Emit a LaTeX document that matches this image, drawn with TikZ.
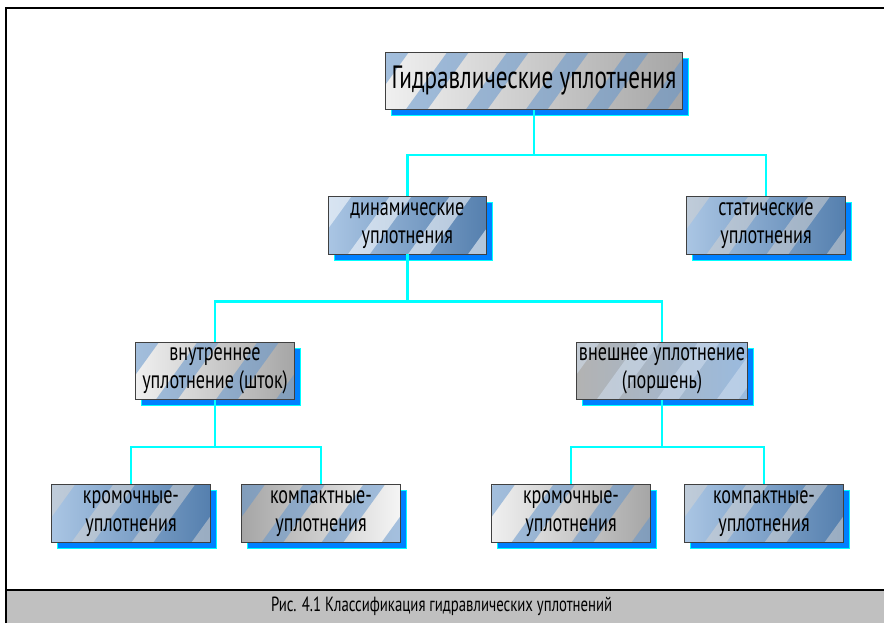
\documentclass[tikz,border=0pt]{standalone}
\usepackage{fontspec}
\setmainfont{PT Sans}[FakeStretch=0.72]
\usetikzlibrary{shadows}
\definecolor{shadowblue}{RGB}{0,128,255}
\definecolor{linkcyan}{RGB}{0,255,255}
\definecolor{glassblue}{RGB}{100,150,205}
\definecolor{capgray}{RGB}{192,192,192}

\begin{document}
\begin{tikzpicture}[
    sealbox/.style={draw=black!75, line width=0.7pt, minimum width=4.75cm, minimum height=1.72cm,
      align=center, inner sep=2pt, font=\fontsize{21.5}{24}\selectfont,
      drop shadow={shadow xshift=0.18cm, shadow yshift=-0.18cm, fill=shadowblue, draw=linkcyan, opacity=1}},
    glass/.style n args={3}{sealbox, left color=#1, right color=#2,
      path picture={
        \foreach \o in {-1.2,0.6,...,9.0}
          \fill[#3, opacity=0.55] ([xshift=\o cm]path picture bounding box.south west)
            -- ++(0.65cm,0) -- ++(1.3cm,1.8cm) -- ++(-0.65cm,0) -- cycle;
      }},
    bluebox/.style={glass={glassblue!55!white}{glassblue!85!black}{#1}},
    graybox/.style={glass={gray!12}{gray!70}{#1}},
    link/.style={linkcyan, line width=2pt}]

    \useasboundingbox (0,0) rectangle (26.52,18.69);

    % рамка и подпись
    \fill[capgray] (0.18,0) rectangle (26.52,0.99);
    \draw[line width=1pt] (0.18,0.99) -- (26.52,0.99);
    \draw[line width=1.2pt] (0.18,0) -- (0.18,18.45) -- (26.52,18.45);
    \node[font=\fontsize{17.5}{18}\selectfont] (caption) at (13.25,0.5)
      {Рис. 4.1 Классификация гидравлических уплотнений};

    % блоки
    \node[graybox=glassblue, minimum width=8.9cm, font=\fontsize{27.5}{30}\selectfont] (main) at (16.02,16.26)
      {Гидравлические уплотнения};
    \node[bluebox=white] (dyn) at (12.22,11.93) {динамические\\уплотнения};
    \node[bluebox=gray!35] (stat) at (22.98,11.93) {статические\\уплотнения};
    \node[graybox=glassblue] (inner) at (6.45,7.56) {внутреннее\\уплотнение (шток)};
    \node[glass={gray!60}{glassblue!65!white}{glassblue!30}] (outer) at (19.86,7.56)
      {внешнее уплотнение\\(поршень)};
    \node[bluebox=gray!35] (edgeL) at (3.93,3.29) {кромочные-\\уплотнения};
    \node[glass={gray!70}{gray!8}{glassblue}] (compL) at (9.63,3.29) {компактные-\\уплотнения};
    \node[graybox=glassblue] (edgeR) at (17.13,3.29) {кромочные-\\уплотнения};
    \node[bluebox=gray!35] (compR) at (22.92,3.29) {компактные-\\уплотнения};

    % связи
    \draw[link] (main.south) -- ++(0,-1.35) -| (dyn.north);
    \draw[link] (main.south) -- ++(0,-1.35) -| (stat.north);
    \draw[link] (dyn.south) -- ++(0,-1.41) -| (inner.north);
    \draw[link] (dyn.south) -- ++(0,-1.41) -| (outer.north);
    \draw[link] (inner.south) -- ++(0,-1.41) -| (edgeL.north);
    \draw[link] (inner.south) -- ++(0,-1.41) -| (compL.north);
    \draw[link] (outer.south) -- ++(0,-1.41) -| (edgeR.north);
    \draw[link] (outer.south) -- ++(0,-1.41) -| (compR.north);

\end{tikzpicture}
\end{document}
